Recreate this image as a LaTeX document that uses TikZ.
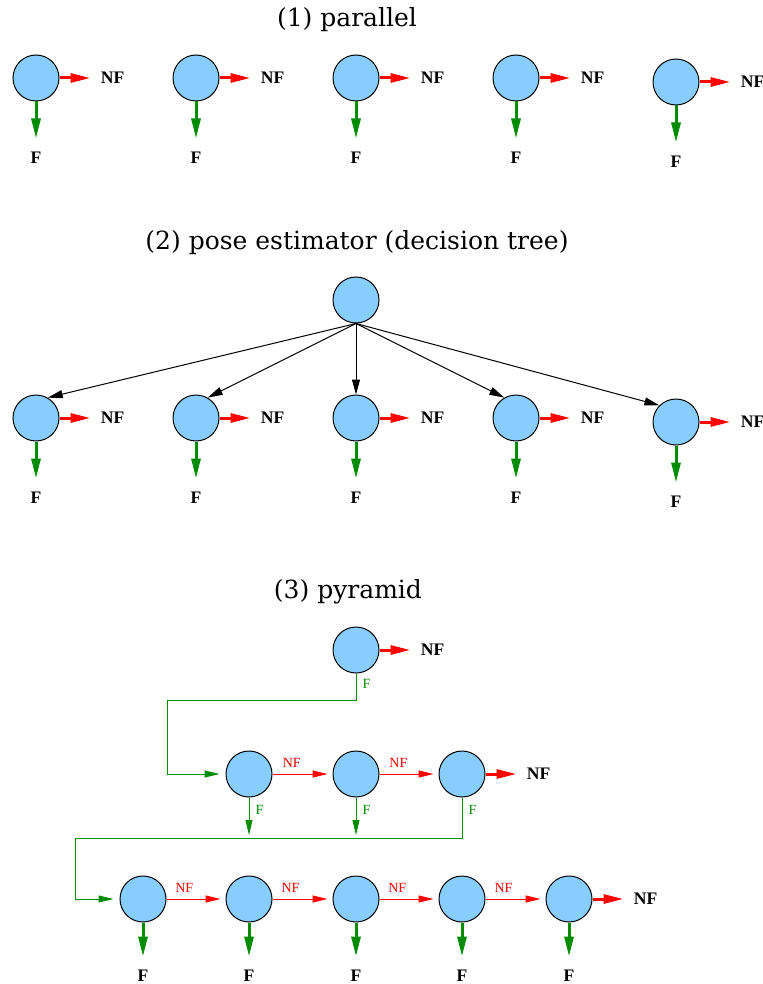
\documentclass[tikz,border=0pt]{standalone}
\usepackage{fontspec}
\setmainfont{Liberation Serif}
\newfontfamily\headfont{DejaVu Serif}
\usetikzlibrary{arrows.meta, positioning}
\definecolor{cellblue}{RGB}{135,206,255}
\definecolor{fgreen}{RGB}{0,140,0}
\tikzset{
  cell/.style={
    draw,
    circle,
    fill=cellblue,
    line width=0.5pt,
    minimum size=23pt,
    inner sep=0pt
  },
  heading/.style={
    font=\headfont\fontsize{12.5}{14}\selectfont
  },
  outlab/.style={
    font=\bfseries\fontsize{8.8}{10}\selectfont,
    inner sep=0pt
  },
  edgelab/.style={
    font=\fontsize{7}{8}\selectfont,
    inner sep=3pt
  },
  nfarrow/.style={
    -{Triangle[length=10pt,width=4.5pt]},
    red,
    line width=1.5pt,
    shorten >=5pt
  },
  farrow/.style={
    -{Triangle[length=10pt,width=4.5pt]},
    fgreen,
    line width=1.5pt,
    shorten >=6.5pt
  },
  nfline/.style={
    -{Triangle[length=7.5pt,width=3.5pt]},
    red,
    line width=0.5pt,
    shorten >=2.5pt
  },
  fline/.style={
    -{Triangle[length=7.5pt,width=3.5pt]},
    fgreen,
    line width=0.5pt
  },
  treearrow/.style={
    -{Triangle[length=7.5pt,width=4pt]},
    line width=0.5pt
  }
}

\begin{document}
\begin{tikzpicture}[x=0.5pt, y=-0.5pt]
\useasboundingbox (0,0) rectangle (762,984);

% --- (1) parallel ---
\node[heading] (t1) at (347,20) {(1) parallel};
\foreach \x/\y [count=\i] in {36/78,196/78,356/78,516/78,676/82}
  \node[cell] (a\i) at (\x,\y) {};

% --- (2) pose estimator (decision tree) ---
\node[heading] (t2) at (357,243) {(2) pose estimator (decision tree)};
\node[cell] (root) at (356,300) {};
\foreach \x/\y [count=\i] in {36/418,196/418,356/418,516/418,676/422}
  \node[cell] (b\i) at (\x,\y) {};

\draw[treearrow] (root.south) -- (b1.60);
\draw[treearrow] (root.south) -- (b2.60);
\draw[treearrow] (root.south) -- (b3.north);
\draw[treearrow] (root.south) -- (b4.120);
\draw[treearrow] (root.south) -- (b5.135);

% --- (3) pyramid ---
\node[heading] (t3) at (348,592) {(3) pyramid};
\node[cell] (r0) at (356,650) {};
\node[cell] (r1) at (249,774) {};
\node[cell] (r2) at (356,774) {};
\node[cell] (r3) at (462,774) {};
\foreach \x [count=\i] in {143,249,356,462,569}
  \node[cell] (s\i) at (\x,899) {};

\coordinate (j1) at (167,700);
\coordinate (j2) at (75,838);

% --- NF chains ---
\draw[nfline] (r1) -- node[edgelab, red, pos=0.32, above] {NF} (r2);
\draw[nfline] (r2) -- node[edgelab, red, pos=0.32, above] {NF} (r3);
\draw[nfline] (s1) -- node[edgelab, red, pos=0.3, above] {NF} (s2);
\draw[nfline] (s2) -- node[edgelab, red, pos=0.3, above] {NF} (s3);
\draw[nfline] (s3) -- node[edgelab, red, pos=0.3, above] {NF} (s4);
\draw[nfline] (s4) -- node[edgelab, red, pos=0.3, above] {NF} (s5);

% --- F to the next level ---
\draw[fline, shorten >=3pt] (r0) |- node[edgelab, fgreen, pos=0.2, right] {F} (j1) |- (r1);
\draw[fline, shorten >=3pt] (r3) |- node[edgelab, fgreen, pos=0.15, right] {F} (j2) |- (s1);
\draw[fline, shorten >=1.5pt] (r1) -- node[edgelab, fgreen, pos=0.3, right] {F} (r1 |- j2);
\draw[fline, shorten >=1.5pt] (r2) -- node[edgelab, fgreen, pos=0.3, right] {F} (r2 |- j2);

% --- final outputs ---
\foreach \n in {a1,a2,a3,a4,a5,b1,b2,b3,b4,b5,r0,r3,s5} {
  \node[outlab, right=20.5pt of \n] (\n nf) {NF};
  \draw[nfarrow] (\n) -- (\n nf);
}
\foreach \n in {a1,a2,a3,a4,a5,b1,b2,b3,b4,b5} {
  \node[outlab, below=25pt of \n] (\n f) {F};
  \draw[farrow] (\n) -- (\n f);
}
\foreach \n in {s1,s2,s3,s4,s5} {
  \node[outlab, below=23.5pt of \n] (\n f) {F};
  \draw[farrow] (\n) -- (\n f);
}

\end{tikzpicture}
\end{document}
